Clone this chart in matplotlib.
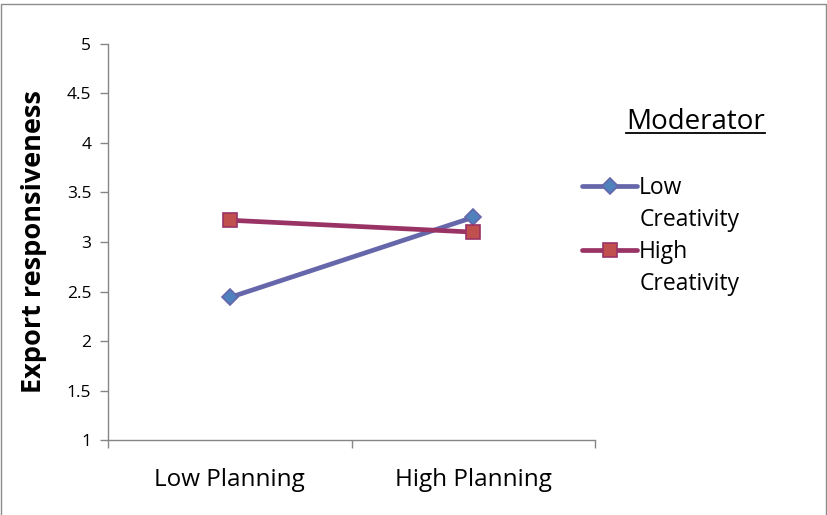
import matplotlib
matplotlib.use("Agg")
from matplotlib import pyplot as plt
from matplotlib.lines import Line2D
from matplotlib.patches import Rectangle

plt.rcParams['font.family'] = ['Open Sans', 'DejaVu Sans']

# Data
categories = ['Low Planning', 'High Planning']
low_creativity = [2.44, 3.25]
high_creativity = [3.22, 3.10]
series_labels = ['Low', 'High']
y_ticks = [1, 1.5, 2, 2.5, 3, 3.5, 4, 4.5, 5]
y_tick_labels = ['1', '1.5', '2', '2.5', '3', '3.5', '4', '4.5', '5']

fig = plt.figure(figsize=(8.27, 5.15), dpi=100)
ax = fig.add_axes([0.1306, 0.1456, 0.589, 0.769])

x = list(range(len(categories)))
l1, = ax.plot(x, low_creativity, color='#6667AB', lw=3.4, marker='D', ms=8.5,
              mfc='#4F81BD', mec='#6667AB', mew=1.2, solid_capstyle='round')
l2, = ax.plot(x, high_creativity, color='#993366', lw=3.4, marker='s', ms=9.5,
              mfc='#C0504D', mec='#993366', mew=1.2, solid_capstyle='round')

ax.set_xlim(-0.5, 1.5)
ax.set_ylim(1, 5)
ax.set_yticks(y_ticks)
ax.set_yticklabels(y_tick_labels, fontsize=12.5)
ax.set_xticks(x)
ax.set_xticklabels(categories, fontsize=17.5)
ax.set_xticks([-0.5, 0.5, 1.5], minor=True)
ax.tick_params(axis='x', which='major', length=0, pad=20)
ax.tick_params(axis='x', which='minor', length=6, color='#868686', width=1)
ax.tick_params(axis='y', length=6, color='#868686', width=1, pad=6)

for side in ['top', 'right']:
    ax.spines[side].set_visible(False)
for side in ['left', 'bottom']:
    ax.spines[side].set_color('#868686')
    ax.spines[side].set_linewidth(1)

ax.set_ylabel('Export responsiveness', fontsize=19.5, fontweight='bold', labelpad=14)

# legend: handle on the first line of each label, second line as a blank row
blank = Line2D([], [], color='none')
leg = ax.legend([l1, blank, l2, blank],
                [series_labels[0], 'Creativity', series_labels[1], 'Creativity'],
                loc='upper left', bbox_to_anchor=(0.955, 0.69), frameon=False,
                fontsize=16.5, handlelength=2.4, handletextpad=0.08,
                labelspacing=0.35, borderaxespad=0)

# legend title, underlined
fig.canvas.draw()
title = fig.text(0.757, 0.7495, 'Moderator', fontsize=20, ha='left', va='baseline')
bb = title.get_window_extent(fig.canvas.get_renderer()).transformed(fig.transFigure.inverted())
fig.add_artist(Line2D([bb.x0, bb.x1], [0.741, 0.741], color='black', lw=1.3,
                      transform=fig.transFigure))

# outer border (open at the bottom)
fig.add_artist(Rectangle((0.0015, -0.02), 0.9973, 1.013, transform=fig.transFigure,
                         fill=False, edgecolor='#8c8c8c', lw=1))

fig.savefig('out.png', dpi=100)
